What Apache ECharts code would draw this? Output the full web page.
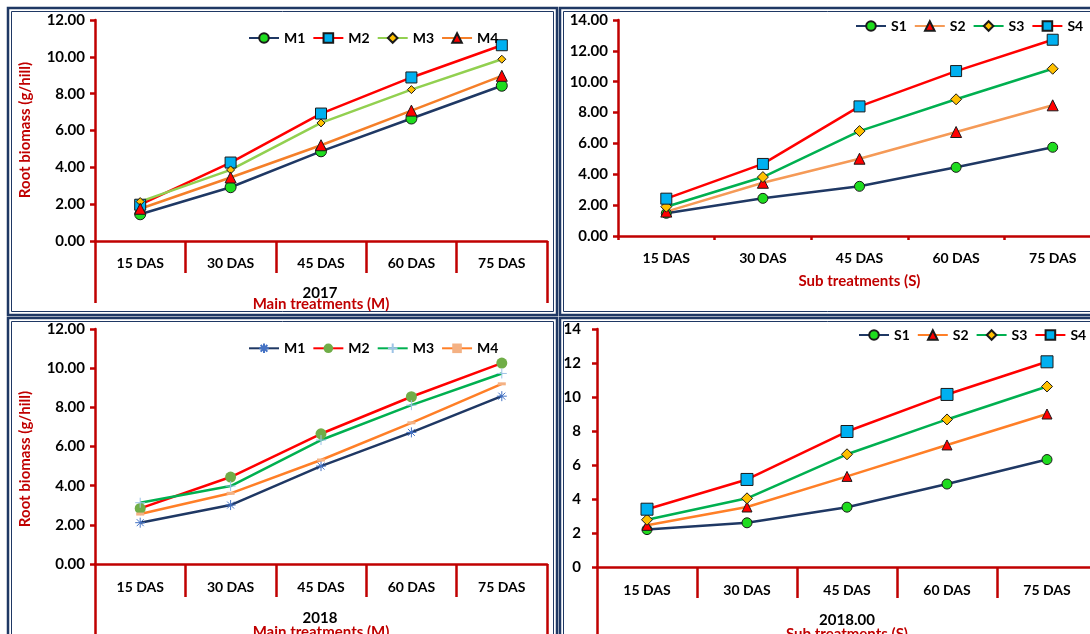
<!DOCTYPE html>
<html>
<head>
<meta charset="utf-8">
<script src="https://cdn.jsdelivr.net/npm/echarts@6/dist/echarts.min.js"></script>
<style>
  html, body { margin: 0; padding: 0; background: #fff; }
  #main { width: 1090px; height: 634px; }
</style>
</head>
<body>
<div id="main"></div>
<script>
const days = ['15 DAS', '30 DAS', '45 DAS', '60 DAS', '75 DAS'];

// 2017 - main treatments
const m1_2017 = [1.45, 2.92, 4.87, 6.65, 8.43];
const m2_2017 = [1.97, 4.26, 6.92, 8.88, 10.63];
const m3_2017 = [2.14, 3.86, 6.41, 8.22, 9.87];
const m4_2017 = [1.75, 3.45, 5.2, 7.08, 8.97];

// 2017 - sub treatments
const s1_2017 = [1.47, 2.44, 3.22, 4.45, 5.75];
const s2_2017 = [1.58, 3.45, 5.01, 6.74, 8.47];
const s3_2017 = [1.9, 3.82, 6.8, 8.86, 10.84];
const s4_2017 = [2.42, 4.67, 8.4, 10.69, 12.72];

// 2018 - main treatments
const m1_2018 = [2.11, 3.01, 5.0, 6.72, 8.57];
const m2_2018 = [2.84, 4.44, 6.65, 8.54, 10.26];
const m3_2018 = [3.13, 3.98, 6.33, 8.11, 9.73];
const m4_2018 = [2.55, 3.61, 5.31, 7.21, 9.2];

// 2018 - sub treatments
const s1_2018 = [2.2, 2.6, 3.52, 4.88, 6.32];
const s2_2018 = [2.45, 3.53, 5.33, 7.18, 9.0];
const s3_2018 = [2.78, 4.04, 6.63, 8.68, 10.62];
const s4_2018 = [3.4, 5.15, 7.97, 10.15, 12.07];

const RED = '#C00000';
const NAVY = '#1F3864';
const FONT = 'Lato';

const chart = echarts.init(document.getElementById('main'));

const redLine = { color: RED, width: 2.5 };
const bold = (size, color) => ({ fontFamily: FONT, fontWeight: 'bold', fontSize: size, color: color });

function catAxis(grid, opts) {
  return {
    gridIndex: grid,
    type: 'category',
    data: days,
    position: 'bottom',
    boundaryGap: true,
    axisLine: { show: true, lineStyle: redLine },
    axisTick: { show: true, alignWithLabel: false, length: opts.tick, lineStyle: redLine },
    axisLabel: Object.assign({ margin: opts.margin }, bold(14, '#000')),
    name: opts.name,
    nameLocation: 'middle',
    nameGap: opts.nameGap,
    nameTextStyle: bold(15, RED),
  };
}

// only the two end ticks, drawn longer (Excel's multi-level axis frame)
function endTicks(grid, len) {
  return {
    gridIndex: grid,
    type: 'category',
    data: days,
    position: 'bottom',
    boundaryGap: true,
    axisLine: { show: false },
    axisLabel: { show: false },
    axisTick: { show: true, length: len, interval: i => i === 0, lineStyle: redLine },
  };
}

function valAxis(grid, max, digits, margin) {
  return {
    gridIndex: grid,
    type: 'value',
    min: 0,
    max: max,
    interval: 2,
    axisLine: { show: true, lineStyle: redLine },
    axisTick: { show: true, length: 5, lineStyle: redLine },
    splitLine: { show: false },
    axisLabel: Object.assign({ margin: margin, formatter: v => v.toFixed(digits) }, bold(15, '#000')),
  };
}

function line(name, data, xi, yi, lineColor, symbol, size, fill, border) {
  return {
    name: name,
    type: 'line',
    data: data,
    xAxisIndex: xi,
    yAxisIndex: yi,
    symbol: symbol,
    symbolSize: size,
    showAllSymbol: true,
    lineStyle: { color: lineColor, width: 2.5 },
    itemStyle: {
      color: fill,
      borderColor: border === undefined ? '#1a1a1a' : border,
      borderWidth: border === null ? 0 : 1,
    },
  };
}

const ASTER = 'path://M0,5L10,5M5,0L5,10M1.5,1.5L8.5,8.5M8.5,1.5L1.5,8.5';
const PLUS = 'path://M0,5L10,5M5,0L5,10';

const legendBase = {
  orient: 'horizontal',
  width: 320,
  padding: 0,
  itemWidth: 30,
  itemHeight: 12,
  itemGap: 7,
  textStyle: bold(14, '#000'),
  formatter: n => n.split(' ')[0],
};

const gridBase = { outerBoundsMode: 'none', containLabel: false };

const option = {
  animation: false,
  grid: [
    Object.assign({ left: 95, top: 20, width: 452, height: 221 }, gridBase),
    Object.assign({ left: 618, top: 20, width: 483, height: 216 }, gridBase),
    Object.assign({ left: 95, top: 329, width: 452, height: 235 }, gridBase),
    Object.assign({ left: 597, top: 329, width: 500, height: 238 }, gridBase),
  ],
  xAxis: [
    catAxis(0, { tick: 32, margin: 15, name: 'Main treatments (M)', nameGap: 56 }),
    endTicks(0, 62),
    catAxis(1, { tick: 4, margin: 15, name: 'Sub treatments (S)', nameGap: 38 }),
    catAxis(2, { tick: 33, margin: 16, name: 'Main treatments (M)', nameGap: 61 }),
    endTicks(2, 80),
    catAxis(3, { tick: 31, margin: 16, name: 'Sub treatments (S)', nameGap: 60 }),
    endTicks(3, 80),
  ],
  yAxis: [
    valAxis(0, 12, 2, 10),
    valAxis(1, 14, 2, 10),
    valAxis(2, 12, 2, 10),
    valAxis(3, 14, 0, 16),
  ],
  legend: [
    Object.assign({ left: 248, top: 31, data: ['M1 2017', 'M2 2017', 'M3 2017', 'M4 2017'] }, legendBase),
    Object.assign({ left: 855, top: 19, data: ['S1 2017', 'S2 2017', 'S3 2017', 'S4 2017'] }, legendBase),
    Object.assign({ left: 248, top: 341, data: ['M1 2018', 'M2 2018', 'M3 2018', 'M4 2018'] }, legendBase),
    Object.assign({ left: 858, top: 328, data: ['S1 2018', 'S2 2018', 'S3 2018', 'S4 2018'] }, legendBase),
  ],
  series: [
    line('M1 2017', m1_2017, 0, 0, NAVY, 'circle', 11, '#1EDC1E'),
    line('M2 2017', m2_2017, 0, 0, '#FF0000', 'rect', 11, '#00B0F0'),
    line('M3 2017', m3_2017, 0, 0, '#92D050', 'diamond', 8, '#FFC000'),
    line('M4 2017', m4_2017, 0, 0, '#F57F29', 'triangle', 11, '#FF0000'),

    line('S1 2017', s1_2017, 2, 1, NAVY, 'circle', 10, '#1EDC1E'),
    line('S2 2017', s2_2017, 2, 1, '#F59A57', 'triangle', 11, '#FF0000'),
    line('S3 2017', s3_2017, 2, 1, '#00B050', 'diamond', 11, '#FFC000'),
    line('S4 2017', s4_2017, 2, 1, '#FF0000', 'rect', 11, '#00B0F0'),

    line('M1 2018', m1_2018, 3, 2, NAVY, ASTER, 10, 'none', '#4472C4'),
    line('M2 2018', m2_2018, 3, 2, '#FF0000', 'circle', 11, '#70AD47', null),
    line('M3 2018', m3_2018, 3, 2, '#00B050', PLUS, 10, 'none', '#9DC3E6'),
    line('M4 2018', m4_2018, 3, 2, '#FF7F27', 'rect', [8, 3], '#F4B183', null),

    line('S1 2018', s1_2018, 5, 3, NAVY, 'circle', 10, '#1EDC1E'),
    line('S2 2018', s2_2018, 5, 3, '#FF7F27', 'triangle', 10, '#FF0000'),
    line('S3 2018', s3_2018, 5, 3, '#00B050', 'diamond', 11, '#FFC000'),
    line('S4 2018', s4_2018, 5, 3, '#FF0000', 'rect', 12, '#00B0F0'),
  ],
  graphic: [
    // panel frames (double navy lines)
    { type: 'rect', shape: { x: 8, y: 8, width: 549, height: 307 }, style: { fill: 'none', stroke: NAVY, lineWidth: 2.5 }, z: -1 },
    { type: 'rect', shape: { x: 11.5, y: 11.5, width: 542, height: 300 }, style: { fill: 'none', stroke: NAVY, lineWidth: 1 }, z: -1 },
    { type: 'rect', shape: { x: 560, y: 8, width: 540, height: 307 }, style: { fill: 'none', stroke: NAVY, lineWidth: 2.5 }, z: -1 },
    { type: 'rect', shape: { x: 563.5, y: 11.5, width: 540, height: 300 }, style: { fill: 'none', stroke: NAVY, lineWidth: 1 }, z: -1 },
    { type: 'rect', shape: { x: 8, y: 318, width: 549, height: 330 }, style: { fill: 'none', stroke: NAVY, lineWidth: 2.5 }, z: -1 },
    { type: 'rect', shape: { x: 11.5, y: 321.5, width: 542, height: 330 }, style: { fill: 'none', stroke: NAVY, lineWidth: 1 }, z: -1 },
    { type: 'rect', shape: { x: 560, y: 318, width: 540, height: 330 }, style: { fill: 'none', stroke: NAVY, lineWidth: 2.5 }, z: -1 },
    { type: 'rect', shape: { x: 563.5, y: 321.5, width: 540, height: 330 }, style: { fill: 'none', stroke: NAVY, lineWidth: 1 }, z: -1 },

    // y axis titles
    { type: 'text', x: 25, y: 130, rotation: Math.PI / 2,
      style: { text: 'Root biomass (g/hill)', align: 'center', verticalAlign: 'middle', fill: RED, font: 'bold 15px Lato' } },
    { type: 'text', x: 25, y: 459, rotation: Math.PI / 2,
      style: { text: 'Root biomass (g/hill)', align: 'center', verticalAlign: 'middle', fill: RED, font: 'bold 15px Lato' } },

    // year captions
    { type: 'text', x: 320, y: 293, z: -1, style: { text: '2017', align: 'center', verticalAlign: 'middle', fill: '#000', font: 'bold 15px Lato' } },
    { type: 'text', x: 320, y: 618, z: -1, style: { text: '2018', align: 'center', verticalAlign: 'middle', fill: '#000', font: 'bold 15px Lato' } },
    { type: 'text', x: 847, y: 620, z: -1, style: { text: '2018.00', align: 'center', verticalAlign: 'middle', fill: '#000', font: 'bold 15px Lato' } },
  ],
};

chart.setOption(option);
window.addEventListener('resize', function () {
  chart.resize();
});
</script>
</body>
</html>
